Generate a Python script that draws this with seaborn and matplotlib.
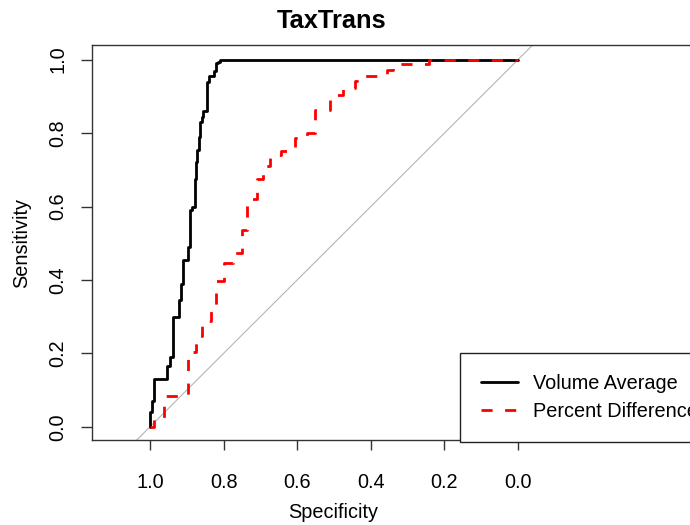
import matplotlib
matplotlib.use("Agg")
import matplotlib.pyplot as plt
import seaborn as sns
import pandas as pd

# ROC curve points (specificity, sensitivity)
va_spec = [1.0, 1.0, 0.995, 0.988, 0.953, 0.946, 0.938, 0.920, 0.916, 0.911, 0.896,
           0.891, 0.885, 0.878, 0.875, 0.871, 0.867, 0.864, 0.860, 0.855, 0.846,
           0.839, 0.826, 0.821, 0.814, 0.810, 0.0]
va_sens = [0.0, 0.04, 0.07, 0.13, 0.165, 0.19, 0.30, 0.345, 0.39, 0.455, 0.49,
           0.59, 0.60, 0.675, 0.72, 0.755, 0.79, 0.83, 0.845, 0.86, 0.94,
           0.955, 0.968, 0.99, 0.995, 1.0, 1.0]

pd_spec = [1.0, 0.99, 0.962, 0.896, 0.875, 0.86, 0.835, 0.82, 0.80, 0.774, 0.75,
           0.737, 0.71, 0.692, 0.675, 0.645, 0.606, 0.574, 0.552, 0.51, 0.505,
           0.475, 0.443, 0.437, 0.357, 0.34, 0.243, 0.0]
pd_sens = [0.0, 0.02, 0.085, 0.205, 0.246, 0.287, 0.319, 0.396, 0.446, 0.474, 0.537,
           0.62, 0.675, 0.71, 0.74, 0.75, 0.787, 0.80, 0.864, 0.89, 0.905,
           0.924, 0.941, 0.955, 0.973, 0.988, 1.0, 1.0]

series_names = ["Volume Average", "Percent Difference"]
tick_vals = [0.0, 0.2, 0.4, 0.6, 0.8, 1.0]
tick_labels = ["0.0", "0.2", "0.4", "0.6", "0.8", "1.0"]

sns.set_style("ticks")
plt.rcParams["font.family"] = ["Liberation Sans", "DejaVu Sans"]
plt.rcParams["text.color"] = "black"
plt.rcParams["axes.labelcolor"] = "black"
plt.rcParams["xtick.color"] = "black"
plt.rcParams["ytick.color"] = "black"

FS = 14.3
W, H = 690, 525
fig = plt.figure(figsize=(W / 100, H / 100), dpi=100)
L, R, T, B = 92, 702, 45, 440
ax = fig.add_axes([L / W, (H - B) / H, (R - L) / W, (B - T) / H])

ax.set_xlim(1.1576, -0.5)
ax.set_ylim(-0.036, 1.04)

ax.axline((1, 0), (0, 1), color="#b5b5b5", lw=0.8, zorder=1)

df_va = pd.DataFrame({"spec": va_spec, "sens": va_sens})
df_pd = pd.DataFrame({"spec": pd_spec, "sens": pd_sens})
sns.lineplot(data=df_va, x="spec", y="sens", sort=False, estimator=None,
             drawstyle="steps-post", color="black", lw=2.0, ax=ax,
             label=series_names[0], zorder=3)
sns.lineplot(data=df_pd, x="spec", y="sens", sort=False, estimator=None,
             drawstyle="steps-post", color="red", lw=2.0, ax=ax,
             label=series_names[1], zorder=4)
ax.lines[-1].set_dashes((4, 4.5))

ax.set_xticks(tick_vals)
ax.set_xticklabels(tick_labels)
ax.set_yticks(tick_vals)
ax.set_yticklabels(tick_labels, rotation=90, va="center")
ax.tick_params(axis="x", length=7.5, width=1, color="#333333", labelsize=FS, pad=16.5)
ax.tick_params(axis="y", length=8, width=1, color="#333333", labelsize=FS, pad=9.5)
for s in ax.spines.values():
    s.set_color("#333333")
    s.set_linewidth(1)

ax.set_xlabel("Specificity", fontsize=FS, va="center")
ax.xaxis.set_label_coords((333 - L) / (R - L), (B - 513) / (B - T))
ax.set_ylabel("Sensitivity", fontsize=FS, va="center")
ax.yaxis.set_label_coords((22 - L) / (R - L), (B - 243) / (B - T))
ax.text((332 - L) / (R - L), (B - 21) / (B - T), "TaxTrans", transform=ax.transAxes,
        ha="center", va="center", fontsize=18.3, fontweight="bold")

leg = ax.legend(loc="upper left", bbox_to_anchor=((460 - L) / (R - L), (B - 353) / (B - T)),
                borderaxespad=0, frameon=True, fancybox=False, framealpha=1,
                edgecolor="#222222", fontsize=FS, handlelength=1.9,
                handletextpad=0.75, borderpad=1.04, labelspacing=0.47)
leg.get_frame().set_linewidth(1)

fig.savefig("out.png", dpi=100)
